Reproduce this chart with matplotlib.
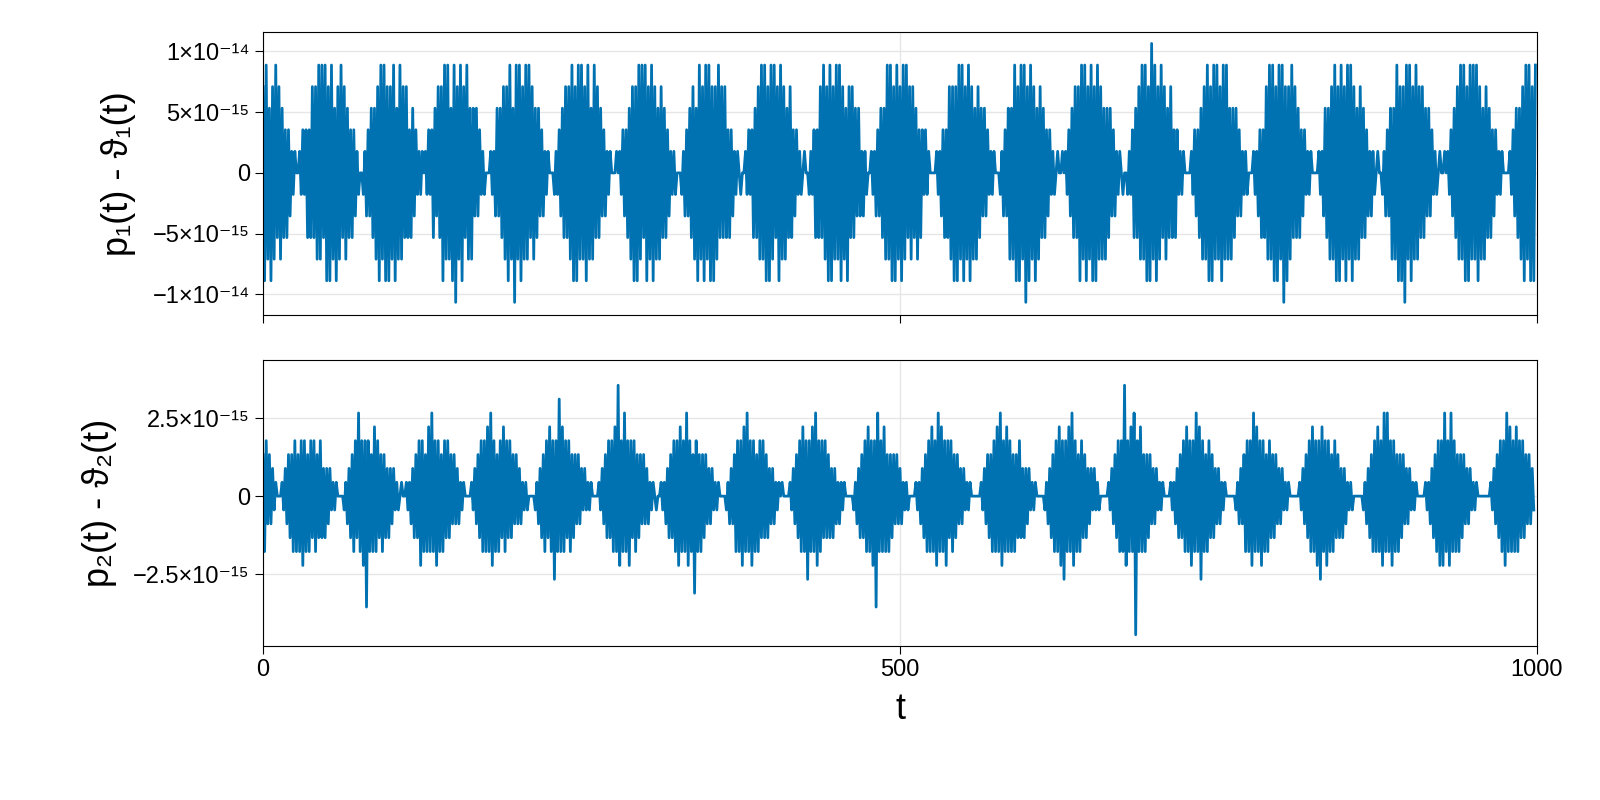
import numpy as np
import matplotlib
matplotlib.use("Agg")
import matplotlib.pyplot as plt

# top series in units of 1.776e-15 (sampled every 1.25 time units)
top_levels = [
 4,-5,5,-4,3,-5,4,-4,5,-3,4,-4,3,-3,2,-3,2,-2,1,-1,1,0,
 0,1,-1,2,-1,2,-3,2,-3,4,-3,4,-4,5,-4,5,-3,5,-5,4,-5,5,-4,3,-5,4,-4,5,-3,4,-4,3,-3,2,-3,2,-2,1,-1,0,
 0,-1,1,-2,2,-2,3,-3,3,-4,4,-5,5,-4,5,-5,4,-5,4,-4,5,-5,3,-4,5,-4,4,-3,4,-3,2,-3,3,-2,2,-1,1,-1,1,0,
 1,-1,2,-1,2,-3,3,-2,4,-3,4,-5,5,-4,5,-4,3,-5,5,-6,4,-4,5,-5,4,-3,5,-4,3,-4,3,-2,3,-2,2,-1,1,-1,0,0,
 0,1,-1,1,-2,3,-2,3,-3,4,-4,4,-5,5,-4,3,-6,5,-4,5,-5,4,-4,5,-4,5,-3,4,-4,3,-3,3,-2,2,-2,1,-1,1,0,0,
 0,-1,1,-1,2,-2,3,-3,4,-3,4,-4,5,-5,4,-5,5,-4,5,-4,4,-5,5,-4,3,-4,5,-3,4,-3,3,-2,2,-2,1,-1,1,0,0,0,
 1,0,1,-1,2,-2,2,-3,3,-4,4,-5,4,-5,5,-4,5,-3,5,-5,4,-4,5,-5,4,-4,3,-4,4,-3,3,-3,2,-2,1,-1,1,-1,0,0,
 0,-1,1,-2,2,-2,3,-3,4,-4,3,-5,5,-4,4,-5,5,-4,5,-5,4,-5,4,-4,5,-3,4,-3,4,-3,2,-3,2,-2,1,-1,1,0,-1,0,
 0,1,-1,2,-1,2,-3,3,-3,4,-4,5,-4,5,-5,4,-5,5,-4,5,-3,4,-5,5,-4,4,-4,3,-3,4,-3,2,-2,2,-1,1,-1,0,1,0,
 0,-1,1,-1,2,-3,2,-3,4,-3,5,-4,4,-5,5,-5,4,-4,5,-4,5,-5,4,-4,3,-5,4,-3,4,-3,3,-2,3,-2,1,-2,1,-1,0,0,
 1,-1,1,-2,2,-2,3,-3,3,-4,5,-4,5,-5,4,-5,5,-4,4,-5,5,-4,5,-3,4,-4,4,-3,3,-4,2,-3,2,-1,2,-1,1,0,0,0,
 0,1,-1,1,-2,2,-3,2,-3,4,-4,4,-5,4,-5,5,-4,5,-5,4,-4,5,-5,4,-4,3,-4,4,-3,3,-2,3,-2,2,-1,1,-1,1,0,0,
 0,-1,1,-2,2,-2,3,-4,3,-4,5,-5,4,-5,5,-4,5,-6,4,-5,5,-4,4,-5,3,-4,4,-3,3,-3,2,-2,2,-1,1,-1,0,1,0,0,
 1,0,1,-1,2,-2,3,-3,4,-3,4,-5,5,-4,5,-5,4,-4,5,-5,4,-5,5,-4,4,-4,3,-4,3,-3,3,-2,2,-2,1,-1,1,0,-1,0,
 0,-1,1,-1,2,-3,3,-3,4,-4,5,-4,5,-5,4,-5,6,-4,5,-5,4,-4,5,-3,4,-4,3,-3,4,-3,2,-3,2,-1,1,-1,1,0,0,0,
 0,1,-1,2,-2,2,-3,3,-4,4,-4,5,-5,4,-5,5,-4,5,-4,4,-5,5,-4,5,-4,3,-4,3,-3,3,-2,2,-2,1,-1,1,-1,0,0,0,
 1,-1,1,-2,2,-3,2,-3,4,-4,5,-4,5,-5,4,-5,5,-4,5,-6,4,-5,4,-4,5,-3,4,-3,3,-3,2,-2,2,-1,1,-1,1,0,0,0,
 0,1,-1,1,-2,3,-3,3,-4,4,-4,5,-5,4,-5,5,-4,4,-5,5,-4,5,-5,4,-4,3,-4,4,-3,3,-3,2,-2,1,-2,1,-1,0,1,0,
 0,-1,1,-2,2,-2,3,-4,3,-4,5,-5,4,-5,4,-6,5,-4,5,-5,4,-4,5,-4,4,-3,4,-3,3,-2,3,-2,2,-1,1,-1,0,1,0,0,
 1,0,1,-1,2,-2,3,-3,4,-4,5,-4,5,-5,4,-5,5,-4,5,-4,5,-5,4,-4,3,-4,4,-3,3,-3,2,-2,2,-1,1,-1,1,0,0,0,
 0,1,-1,2,-2,3,-3,3,-4,4,-5,5,-4,5,-5,4,-5,5]

# bottom series in units of 0.444e-15
bot_levels = [
 3,-4,4,-2,3,-2,2,-1,1,0,0,
 0,1,-1,2,-2,3,-3,3,-4,4,-4,3,-4,4,-5,4,-4,3,-4,4,-3,4,-4,3,-3,4,-3,2,-3,2,-2,2,-1,1,-1,1,0,0,0,
 0,-1,1,-2,2,-3,3,-4,4,-3,6,-4,4,-5,4,-8,4,-4,3,-4,5,-4,4,-3,3,-4,3,-3,2,-3,2,-2,2,-1,1,-1,0,1,0,0,
 1,-1,1,-2,2,-3,3,-3,4,-5,4,-4,3,-4,5,-4,6,-4,4,-5,4,-4,3,-4,4,-3,4,-3,3,-2,3,-2,2,-2,1,-1,1,0,0,0,
 0,1,-1,2,-2,3,-3,4,-4,4,-4,5,-4,6,-5,4,-4,3,-4,4,-3,5,-4,4,-3,4,-3,3,-2,3,-2,2,-2,1,-1,1,-1,0,0,0,
 0,-1,1,-2,2,-3,3,-4,4,-3,5,-4,4,-6,4,-4,7,-4,5,-4,4,-3,4,-4,3,-3,3,-2,3,-2,2,-1,2,-1,1,-1,1,0,0,0,
 0,1,-1,2,-2,3,-3,4,-3,4,-4,5,-4,8,-5,4,-4,6,-4,4,-5,4,-3,4,-4,3,-3,3,-2,3,-2,2,-2,1,-1,1,0,-1,0,0,
 1,-1,1,-2,2,-3,3,-3,4,-4,4,-5,5,-4,4,-4,6,-5,4,-4,3,-7,4,-4,3,-4,3,-3,3,-2,2,-2,2,-1,1,-1,1,0,0,0,
 0,-1,1,-2,2,-2,3,-4,4,-4,4,-5,5,-4,6,-4,4,-5,4,-4,3,-4,4,-3,4,-3,3,-3,2,-2,2,-2,1,-1,1,0,1,0,0,0,
 0,1,-1,2,-2,3,-3,4,-4,5,-4,4,-6,4,-4,5,-4,6,-5,4,-4,4,-3,4,-3,3,-3,2,-3,2,-2,1,-2,1,-1,1,0,0,0,0,
 0,-1,1,-2,2,-3,3,-3,4,-4,5,-4,4,-5,4,-8,6,-4,4,-4,5,-4,3,-4,3,-3,3,-2,3,-2,2,-2,1,-1,1,-1,0,0,0,0,
 1,-1,1,-2,2,-3,3,-4,4,-4,5,-4,4,-5,6,-4,5,-4,4,-5,4,-3,4,-4,3,-3,3,-2,2,-2,2,-1,1,-1,1,0,0,0,0,0,
 0,1,-1,2,-2,3,-3,3,-4,4,-4,5,-4,6,-5,4,-4,5,-4,4,-4,3,-4,3,-3,4,-3,2,-3,2,-2,2,-1,1,-1,1,0,0,0,0,
 0,-1,1,-2,2,-3,3,-4,4,-4,5,-5,4,-6,4,-4,5,-4,6,-5,4,-4,3,-4,4,-3,3,-3,2,-2,2,-1,2,-1,1,-1,0,0,0,0,
 0,1,-1,2,-2,3,-3,4,-4,4,-4,8,-5,4,-4,5,-4,6,-10,4,-4,5,-4,3,-4,3,-3,3,-2,2,-2,2,-1,1,-1,1,0,0,0,0,
 1,-1,1,-2,2,-3,3,-3,4,-4,5,-4,4,-5,4,-4,6,-4,5,-6,4,-4,3,-4,4,-3,3,-3,2,-2,2,-2,1,-1,1,0,0,0,0,0,
 0,-1,1,-2,2,-2,3,-4,4,-4,4,-5,6,-4,5,-4,4,-5,4,-4,3,-4,4,-3,3,-3,3,-2,2,-2,2,-1,1,-1,1,0,0,0,0,0,
 0,1,-1,2,-2,3,-3,4,-4,5,-4,4,-5,4,-6,5,-4,4,-5,4,-4,3,-4,4,-3,3,-3,2,-3,2,-2,1,-1,1,-1,0,0,0,0,0,
 0,-1,1,-2,2,-3,3,-4,4,-4,5,-4,4,-5,6,-4,6,-4,4,-5,4,-4,3,-4,3,-3,3,-2,2,-2,2,-1,1,-1,1,0,0,0,0,0,
 1,-1,1,-2,2,-3,3,-4,4,-5,4,-5,6,-4,4,-5,6,-4,4,-4,3,-4,3,-3,3,-2,2,-2,2,-1,1,-1,1,0,0,0,0,0,0,0,
 0,1,-1,2,-2,3,-3,4,-4,4,-5,6,-4,5,-4,4,-4,5,-4,4,-3,4,-3,3,-2,3,-2,2,-1]

top_unit = 1.776e-15
bot_unit = 0.444e-15
dt = 1.25

top = np.array(top_levels) * top_unit
bot = np.array(bot_levels) * bot_unit
t_top = np.arange(len(top)) * dt
t_bot = np.arange(len(bot)) * dt

plt.rcParams['font.family'] = ['Liberation Sans', 'DejaVu Sans']
col = '#0072b2'
fig = plt.figure(figsize=(16, 8), dpi=100)
ax1 = fig.add_axes([263/1600, 1-315/800, 1274/1600, 283/800])
ax2 = fig.add_axes([263/1600, 1-646/800, 1274/1600, 286/800])

for ax in (ax1, ax2):
    ax.grid(True, color='#e6e6e6', lw=1)
    ax.set_axisbelow(True)
    ax.set_xlim(0, 1000)
    ax.set_xticks([0, 500, 1000])
    ax.tick_params(labelsize=17, length=6, direction='out')

ax1.plot(t_top, top, color=col, lw=2)
ax1.set_ylim(-1.17e-14, 1.16e-14)
ax1.set_yticks([-1e-14, -5e-15, 0, 5e-15, 1e-14])
ax1.set_yticklabels(['−1×10⁻¹⁴', '−5×10⁻¹⁵', '0', '5×10⁻¹⁵', '1×10⁻¹⁴'])
ax1.set_xticklabels([])
ax1.set_ylabel('p₁(t) - ϑ₁(t)', fontsize=26, labelpad=12)

ax2.plot(t_bot, bot, color=col, lw=2)
ax2.set_ylim(-4.8e-15, 4.36e-15)
ax2.set_yticks([-2.5e-15, 0, 2.5e-15])
ax2.set_yticklabels(['−2.5×10⁻¹⁵', '0', '2.5×10⁻¹⁵'])
ax2.set_xticklabels(['0', '500', '1000'])
ax2.set_xlabel('t', fontsize=26, labelpad=8)
ax2.set_ylabel('p₂(t) - ϑ₂(t)', fontsize=26, labelpad=12)

fig.savefig('out.png', dpi=100)
